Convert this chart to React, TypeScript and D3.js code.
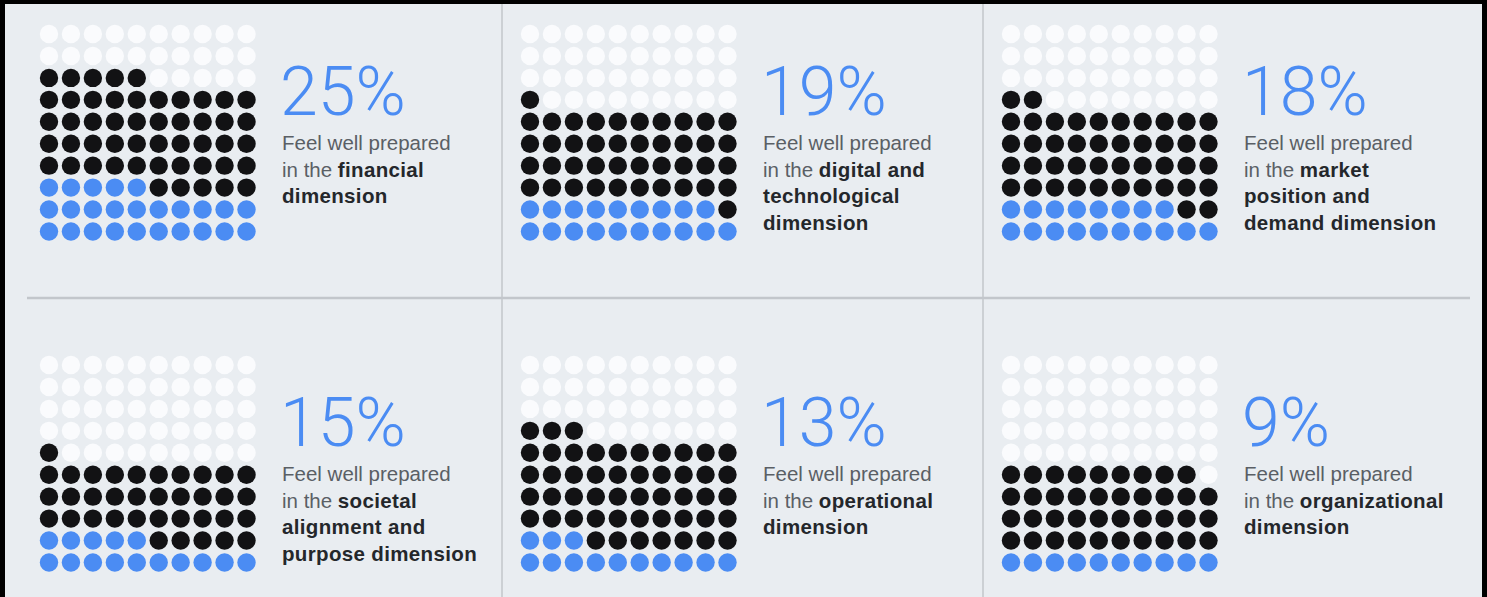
import React from 'react';
import * as d3 from 'd3';

const W = 1487;
const H = 597;

// one entry per panel, read left-to-right, top-to-bottom
const pctLabels = ['25%', '19%', '18%', '15%', '13%', '9%'];
const blueDots = [25, 19, 18, 15, 13, 10];
const blackDots = [50, 42, 44, 36, 50, 39];
// *text* = bold
const descLines = [
  ['Feel well prepared', 'in the *financial*', '*dimension*'],
  ['Feel well prepared', 'in the *digital and*', '*technological*', '*dimension*'],
  ['Feel well prepared', 'in the *market*', '*position and*', '*demand dimension*'],
  ['Feel well prepared', 'in the *societal*', '*alignment and*', '*purpose dimension*'],
  ['Feel well prepared', 'in the *operational*', '*dimension*'],
  ['Feel well prepared', 'in the *organizational*', '*dimension*'],
];

const GRID = 10;
const BLUE = '#4b8cf3';
const BLACK = '#121214';
const WHITE = '#fafbfd';
const BG = '#e9edf1';

const panelX = d3.scalePoint<number>().domain([0, 1, 2]).range([49, 1011]);
const panelY = d3.scalePoint<number>().domain([0, 1]).range([34, 365]);
const cell = d3.scaleLinear().domain([0, GRID - 1]).range([0, 197.5]);

function dotColor(idx: number, blue: number, black: number) {
  // fill from bottom row upward, left to right
  const row = Math.floor(idx / GRID);
  const col = idx % GRID;
  const order = (GRID - 1 - row) * GRID + col;
  if (order < blue) return BLUE;
  if (order < blue + black) return BLACK;
  return WHITE;
}

function Line({ text, x, y }: { text: string; x: number; y: number }) {
  const parts = text.split('*');
  return (
    <text x={x} y={y} fontFamily="'Liberation Sans', Arial, sans-serif" fontSize={20.5}>
      {parts.map((p, i) =>
        p === '' ? null : (
          <tspan
            key={i}
            fontWeight={i % 2 === 1 ? 700 : 400}
            fill={i % 2 === 1 ? '#24272b' : '#5a5f65'}
            letterSpacing={i % 2 === 1 ? 0.35 : 0}
          >
            {p}
          </tspan>
        )
      )}
    </text>
  );
}

export default function App() {
  const cells = d3.range(GRID * GRID);
  return (
    <svg width={W} height={H} style={{ position: 'absolute', left: 0, top: 0, display: 'block' }}>
      <rect x={0} y={0} width={W} height={H} fill="#000" />
      <rect x={5} y={4} width={1477} height={H - 4} fill={BG} />

      {/* dividers */}
      <line x1={502} x2={502} y1={4} y2={H} stroke="#b9bdc2" strokeWidth={1.2} />
      <line x1={983} x2={983} y1={4} y2={H} stroke="#b9bdc2" strokeWidth={1.2} />
      <line x1={27} x2={1470} y1={298} y2={298} stroke="#c2c6cb" strokeWidth={2.5} />

      {pctLabels.map((lab, p) => {
        const gx = panelX(p % 3) as number;
        const gy = panelY(Math.floor(p / 3)) as number;
        const tx = gx + 233;
        return (
          <g key={p}>
            {cells.map((i) => (
              <circle
                key={i}
                cx={gx + cell(i % GRID)}
                cy={gy + cell(Math.floor(i / GRID))}
                r={9.2}
                fill={dotColor(i, blueDots[p], blackDots[p])}
              />
            ))}
            <text
              x={tx - 2}
              y={gy + 81}
              fill={BLUE}
              fontFamily="Roboto, 'Liberation Sans', sans-serif"
              fontWeight={300}
              fontSize={68}
            >
              {lab}
            </text>
            {descLines[p].map((l, k) => (
              <Line key={k} text={l} x={tx} y={gy + 116 + k * 26.5} />
            ))}
          </g>
        );
      })}
    </svg>
  );
}
